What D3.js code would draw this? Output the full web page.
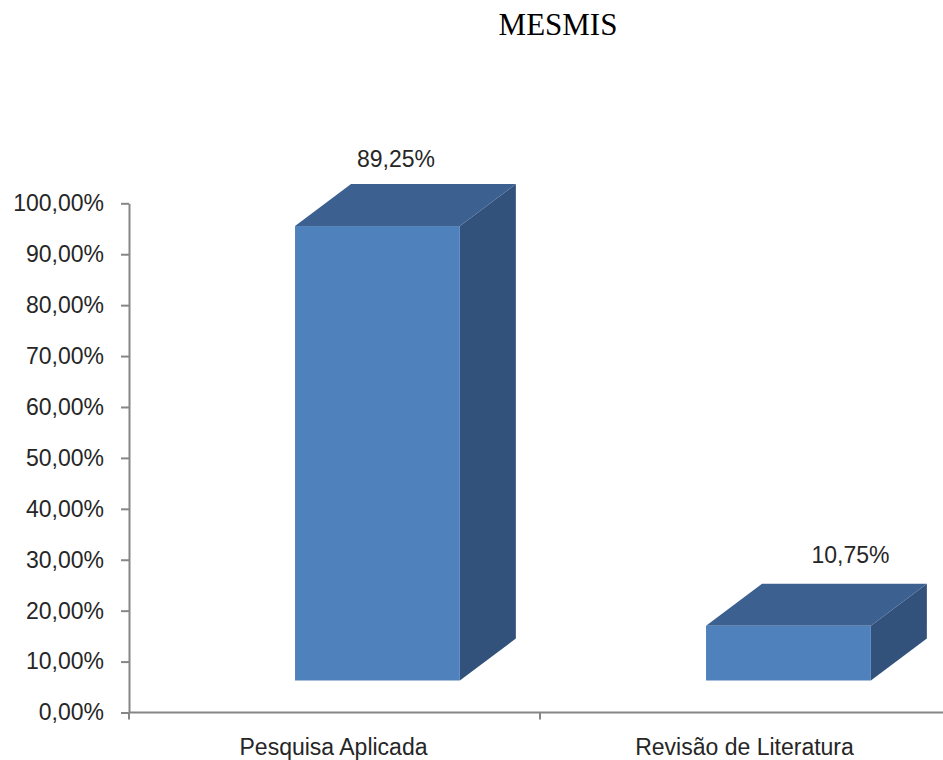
<!DOCTYPE html>
<html>
<head>
<meta charset="utf-8">
<script src="https://cdn.jsdelivr.net/npm/d3@7"></script>
<style>
  html, body { margin: 0; padding: 0; background: #ffffff; }
  svg { display: block; }
</style>
</head>
<body>
<svg id="chart" width="943" height="760"></svg>
<script>
// ---- data ----
const title = "MESMIS";
const categories = ["Pesquisa Aplicada", "Revisão de Literatura"];
const values = [0.8925, 0.1075];
const valueLabels = ["89,25%", "10,75%"];
const yTicks = [0, 0.1, 0.2, 0.3, 0.4, 0.5, 0.6, 0.7, 0.8, 0.9, 1.0];

// ---- layout ----
const W = 943, H = 760;
const plot = { left: 129, right: 951, top: 203.3, bottom: 712.5 };
const depth = { dx: 56, dy: -42, floor: 32 };
const labelShift = [{ dx: 18.5, dy: -17 }, { dx: 62, dy: -21 }];
const colors = { front: "#4f81bd", top: "#3c6090", side: "#33527b", axis: "#868686", text: "#262626" };
const font = "'Liberation Sans', Arial, sans-serif";

const svg = d3.select("#chart");

const y = d3.scaleLinear().domain([0, 1]).range([plot.bottom, plot.top]);
const x = d3.scaleBand().domain(categories).range([plot.left, plot.right]).padding(0);

const fmt = v => d3.format(".2f")(v * 100).replace(".", ",") + "%";

// title
svg.append("text")
  .attr("x", 558).attr("y", 35)
  .attr("text-anchor", "middle")
  .attr("font-family", "'Liberation Serif', 'Times New Roman', serif")
  .attr("font-size", 31)
  .attr("fill", "#000")
  .text(title);

// y axis
const yAxis = svg.append("g")
  .attr("transform", `translate(${plot.left},0)`)
  .call(d3.axisLeft(y).tickValues(yTicks).tickFormat(fmt).tickSizeInner(8).tickSizeOuter(0).tickPadding(17));
yAxis.select(".domain").attr("stroke", colors.axis).attr("stroke-width", 2);
yAxis.selectAll(".tick line").attr("stroke", colors.axis).attr("stroke-width", 2);
yAxis.selectAll(".tick text")
  .attr("font-family", font).attr("font-size", 23).attr("fill", colors.text);

// x axis
const bw = x.bandwidth();
const xAxis = svg.append("g")
  .attr("transform", `translate(0,${plot.bottom})`);
xAxis.append("line")
  .attr("x1", plot.left).attr("x2", W)
  .attr("y1", 0).attr("y2", 0)
  .attr("stroke", colors.axis).attr("stroke-width", 2);
xAxis.selectAll("line.tick")
  .data(categories)
  .join("line").attr("class", "tick")
  .attr("x1", d => x(d)).attr("x2", d => x(d))
  .attr("y1", 0).attr("y2", 7)
  .attr("stroke", colors.axis).attr("stroke-width", 2);
xAxis.selectAll("text")
  .data(categories)
  .join("text")
  .attr("x", d => x(d) + bw / 2 - 1)
  .attr("y", 42.5)
  .attr("text-anchor", "middle")
  .attr("font-family", font).attr("font-size", 23)
  .attr("fill", colors.text)
  .text(d => d);

// 3D bars
const frontOff = 0.404 * bw, frontW = 0.401 * bw;
const base = y(0) - depth.floor;
const bars = svg.append("g");
categories.forEach((c, i) => {
  const x0 = x(c) + frontOff, x1 = x0 + frontW;
  const yb = base, yt = base - (y(0) - y(values[i]));
  const dx = depth.dx, dy = depth.dy;
  // side face
  bars.append("path")
    .attr("d", `M${x1},${yt}L${x1 + dx},${yt + dy}L${x1 + dx},${yb + dy}L${x1},${yb}Z`)
    .attr("fill", colors.side);
  // top face
  bars.append("path")
    .attr("d", `M${x0},${yt}L${x0 + dx},${yt + dy}L${x1 + dx},${yt + dy}L${x1},${yt}Z`)
    .attr("fill", colors.top);
  // front face
  bars.append("rect")
    .attr("x", x0).attr("y", yt)
    .attr("width", frontW).attr("height", yb - yt)
    .attr("fill", colors.front);
  // value label
  bars.append("text")
    .attr("x", (x0 + x1) / 2 + labelShift[i].dx)
    .attr("y", yt + dy + labelShift[i].dy)
    .attr("text-anchor", "middle")
    .attr("font-family", font).attr("font-size", 23)
    .attr("fill", colors.text)
    .text(valueLabels[i]);
});
</script>
</body>
</html>
